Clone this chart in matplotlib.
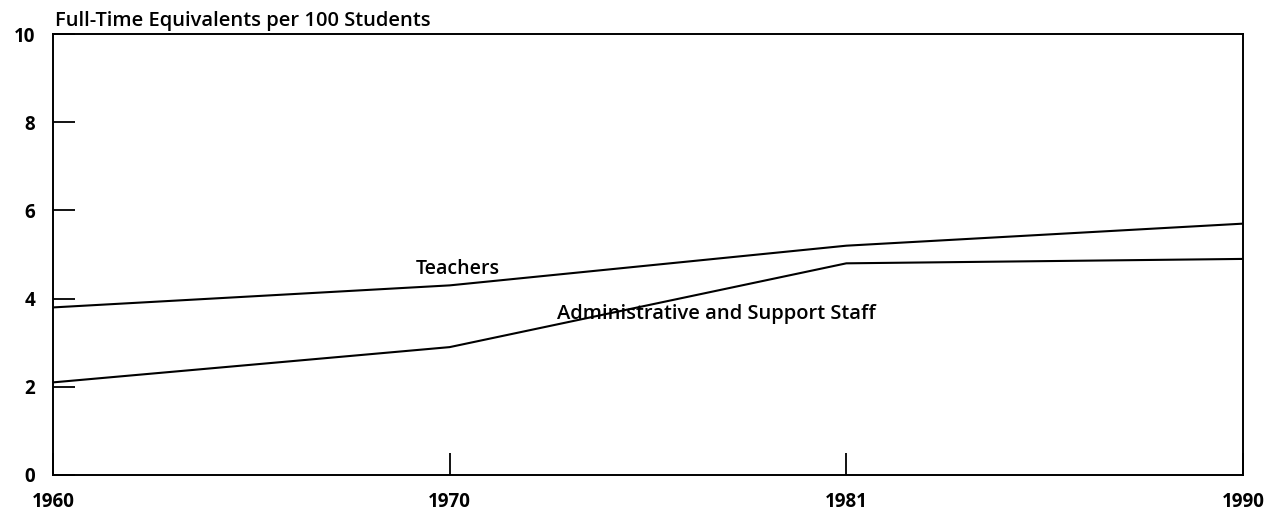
import matplotlib.pyplot as plt

years = ['1960', '1970', '1981', '1990']
teachers = [3.8, 4.3, 5.2, 5.7]
admin_support = [2.1, 2.9, 4.8, 4.9]
y_ticks = [0, 2, 4, 6, 8, 10]

plt.rcParams['font.family'] = ['Open Sans', 'DejaVu Sans']

fig = plt.figure(figsize=(12.82, 5.21), dpi=100)
ax = fig.add_axes([0.0413, 0.0883, 0.9283, 0.8464])

x = list(range(len(years)))
ax.plot(x, teachers, color='black', lw=1.5)
ax.plot(x, admin_support, color='black', lw=1.5)

ax.set_xlim(0, len(years) - 1)
ax.set_ylim(0, 10)

ax.set_yticks(y_ticks)
ax.set_yticklabels([str(v) for v in y_ticks], fontsize=13.5, fontweight='bold')
ax.tick_params(axis='y', direction='in', length=16, width=1.3, pad=13)

ax.set_xticks(x)
ax.set_xticklabels(years, fontsize=13.5, fontweight='bold')
ax.tick_params(axis='x', direction='in', length=16, width=1.3, pad=12)

for side in ['left', 'right', 'top', 'bottom']:
    ax.spines[side].set_linewidth(1.4)

ax.text(1.02, 4.45, 'Teachers', fontsize=14, fontweight='semibold', ha='center', va='bottom')
ax.text(1.27, 3.65, 'Administrative and Support Staff', fontsize=14.5, fontweight='semibold', ha='left', va='center')

fig.text(0.043, 0.94, 'Full-Time Equivalents per 100 Students', fontsize=14.5, fontweight='semibold', ha='left', va='bottom')

fig.savefig('out.png', dpi=100)
